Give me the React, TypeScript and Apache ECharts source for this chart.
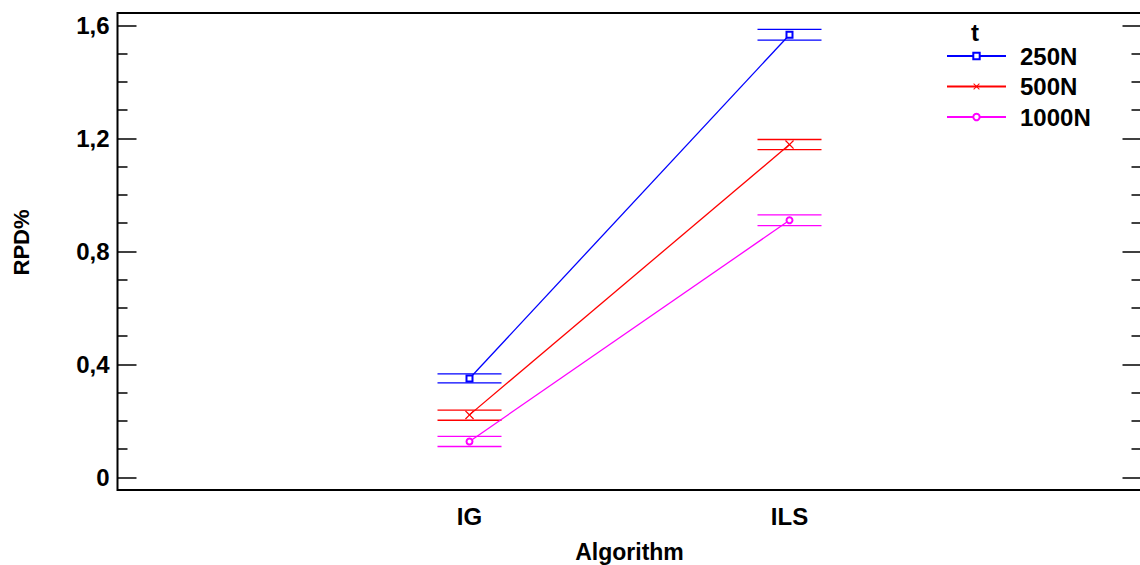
import React, { useEffect, useRef } from "react";
import * as echarts from "echarts";

const categories = ["IG", "ILS"];
const levels = ["250N", "500N", "1000N"];
const means250 = [0.35, 1.567];
const means500 = [0.221, 1.178];
const means1000 = [0.127, 0.91];
const lower250 = [0.334, 1.548];
const upper250 = [0.366, 1.586];
const lower500 = [0.202, 1.16];
const upper500 = [0.238, 1.196];
const lower1000 = [0.109, 0.891];
const upper1000 = [0.145, 0.929];
const majorTicks = [0, 0.4, 0.8, 1.2, 1.6];
const minorTicks = [0.1, 0.2, 0.3, 0.5, 0.6, 0.7, 0.9, 1.0, 1.1, 1.3, 1.4, 1.5];

const COLORS = ["#0000ff", "#ff0000", "#ff00ff"];
const SYMBOLS = [
  "emptyRect",
  "path://M0,1L1,0L5,4L9,0L10,1L6,5L10,9L9,10L5,6L1,10L0,9L4,5Z",
  "emptyCircle",
];
const SYMBOL_SIZES = [6, 9, 6];
const FONT = "'Liberation Sans', Arial, Helvetica, sans-serif";
const HALF = 0.1;
const Y_MIN = -0.045;
const Y_MAX = 1.644;
const X_MIN = -0.1;
const X_MAX = 3.1;

export default function App() {
  const ref = useRef<HTMLDivElement>(null);
  useEffect(() => {
    if (!ref.current) return;
    const chart = echarts.init(ref.current, undefined, { renderer: "svg" });
    const means = [means250, means500, means1000];
    const lowers = [lower250, lower500, lower1000];
    const uppers = [upper250, upper500, upper1000];

    const lineSeries = levels.map((name, i) => ({
      type: "line",
      name,
      xAxisIndex: 0,
      yAxisIndex: 0,
      data: categories.map((_, j) => [j + 1, means[i][j]]),
      symbol: SYMBOLS[i],
      symbolSize: SYMBOL_SIZES[i],
      showSymbol: true,
      itemStyle: { color: COLORS[i] },
      lineStyle: { color: COLORS[i], width: 1.3 },
      z: 3,
    }));

    const barSeries = levels.map((name, i) => ({
      type: "custom",
      name: name + " interval",
      xAxisIndex: 0,
      yAxisIndex: 0,
      data: categories.map((_, j) => [j + 1, lowers[i][j], uppers[i][j]]),
      encode: { x: 0, y: [1, 2] },
      z: 2,
      renderItem: (params: any, api: any) => {
        const x = api.value(0);
        const lo = api.value(1);
        const hi = api.value(2);
        const a = api.coord([x - HALF, lo]);
        const b = api.coord([x + HALF, lo]);
        const c = api.coord([x - HALF, hi]);
        const d = api.coord([x + HALF, hi]);
        const style = { stroke: COLORS[i], lineWidth: 1.3 };
        return {
          type: "group",
          children: [
            { type: "line", shape: { x1: a[0], y1: a[1], x2: b[0], y2: b[1] }, style },
            { type: "line", shape: { x1: c[0], y1: c[1], x2: d[0], y2: d[1] }, style },
          ],
        };
      },
    }));

    const yBase = (gridIndex: number, position: string, ticks: number[], len: number, labels: boolean) => ({
      type: "value",
      gridIndex,
      position,
      min: Y_MIN,
      max: Y_MAX,
      axisLine: { show: false, onZero: false },
      splitLine: { show: false },
      axisTick: {
        show: true,
        inside: true,
        length: len,
        customValues: ticks,
        lineStyle: { color: "#000", width: 1.5 },
      },
      axisLabel: labels
        ? {
            show: true,
            customValues: majorTicks,
            margin: 8,
            fontFamily: FONT,
            fontWeight: "bold",
            fontSize: 24,
            color: "#000",
            formatter: (v: number) => (v === 0 ? "0" : v.toFixed(1).replace(".", ",")),
          }
        : { show: false },
    });

    const yAxes: any[] = [
      {
        ...yBase(0, "left", majorTicks, 19, true),
        name: "RPD%",
        nameLocation: "middle",
        nameRotate: 90,
        nameGap: 85,
        nameTextStyle: {
          fontFamily: FONT,
          fontWeight: "bold",
          fontSize: 22,
          color: "#000",
          padding: [0, 0, 0, 18],
        },
      },
      yBase(0, "right", majorTicks, 19, false),
      yBase(1, "left", minorTicks, 10, false),
      yBase(1, "right", minorTicks, 10, false),
    ];

    const gridRect = {
      left: 117.5,
      top: 13,
      width: 1024,
      bottom: 75,
      containLabel: false,
      outerBoundsMode: "none",
    };

    chart.setOption({
      animation: false,
      backgroundColor: "#fff",
      grid: [
        {
          ...gridRect,
          show: true,
          borderColor: "#000",
          borderWidth: 2,
          backgroundColor: "transparent",
        },
        { ...gridRect, show: false },
      ],
      xAxis: [
        {
          type: "value",
          gridIndex: 0,
          position: "bottom",
          min: X_MIN,
          max: X_MAX,
          axisLine: { show: false, onZero: false },
          axisTick: { show: false },
          splitLine: { show: false },
          axisLabel: {
            customValues: [1, 2],
            margin: 14,
            fontFamily: FONT,
            fontWeight: "bold",
            fontSize: 24,
            color: "#000",
            formatter: (v: number) => categories[Math.round(v) - 1] ?? "",
          },
          name: "Algorithm",
          nameLocation: "middle",
          nameGap: 50,
          nameTextStyle: { fontFamily: FONT, fontWeight: "bold", fontSize: 23, color: "#000" },
        },
        {
          type: "value",
          gridIndex: 1,
          position: "bottom",
          min: X_MIN,
          max: X_MAX,
          axisLine: { show: false, onZero: false },
          show: false,
        },
      ],
      yAxis: yAxes,
      legend: {
        data: levels,
        orient: "vertical",
        left: 941,
        top: 39,
        itemWidth: 59,
        itemHeight: 8,
        itemGap: 6.5,
        textStyle: {
          fontFamily: FONT,
          fontWeight: "bold",
          fontSize: 24,
          color: "#000",
          padding: [0, 0, 0, 9],
        },
      },
      graphic: [
        {
          type: "text",
          left: 971,
          top: 20,
          style: { text: "t", fontFamily: FONT, fontWeight: "bold", fontSize: 24, fill: "#000" },
        },
      ],
      series: [...barSeries, ...lineSeries],
    });
    return () => chart.dispose();
  }, []);
  return (
    <div
      ref={ref}
      style={{ position: "fixed", left: 0, top: 0, width: 1140, height: 565, background: "#fff" }}
    />
  );
}
